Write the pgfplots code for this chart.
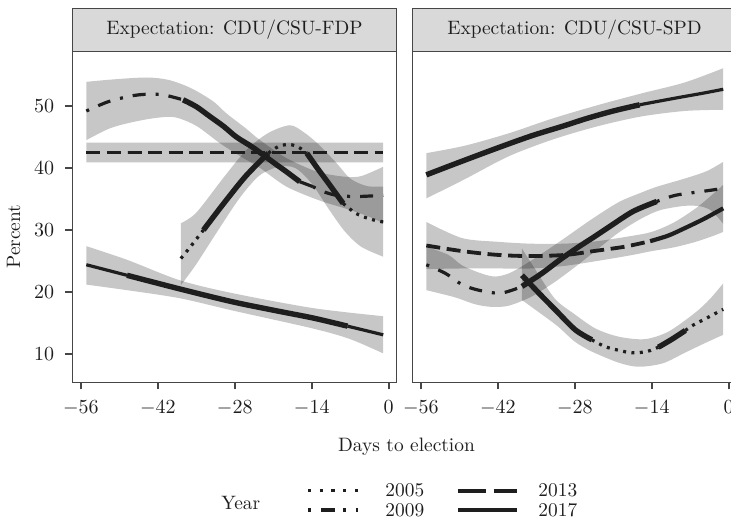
\documentclass[border=0pt]{standalone}
\usepackage{pgfplots}
\pgfplotsset{compat=1.18}
\usepgfplotslibrary{fillbetween}

\definecolor{ink}{RGB}{30,30,30}
\definecolor{frame}{RGB}{70,70,70}
\definecolor{stripbg}{RGB}{217,217,217}

\pgfplotsset{
  panel/.style={
    scale only axis, width=162.2pt, height=165.3pt,
    xmin=-57.55, xmax=1.45, ymin=5.44, ymax=58.76,
    xtick={-56,-42,-28,-14,0},
    tick align=outside, major tick length=3.5pt,
    xtick pos=bottom, ytick pos=left,
    tick style={line width=0.9pt, color=frame},
    axis line style={line width=0.6pt, draw=frame},
    tick label style={font=\fontsize{9.7}{11.6}\selectfont, text=ink},
    xticklabel style={yshift=-2pt},
    yticklabel style={xshift=-2pt},
  },
  band/.style={draw=none, smooth},
  shade/.style={fill=black, fill opacity=0.22, draw=none},
  thin/.style={ink, line width=1.6pt, smooth, line cap=butt},
  thick/.style={ink, line width=2.7pt, smooth, line cap=butt},
  dashd/.style={ink, line width=1.9pt, smooth, line cap=butt, dash pattern=on 7pt off 3.3pt},
  dotd/.style={ink, line width=1.6pt, smooth, line cap=butt, dash pattern=on 1.5pt off 2.7pt},
  dotdash/.style={ink, line width=1.6pt, smooth, line cap=butt, dash pattern=on 1.5pt off 5pt on 6.5pt off 5pt},
}

\begin{document}
\begin{tikzpicture}[font=\fontsize{9.7}{11.6}\selectfont]

% ---- left panel: CDU/CSU-FDP
\begin{axis}[panel, at={(36.15pt,-191.15pt)}, anchor=south west, ytick={10,20,30,40,50}]
  % bands
  \addplot[band, name path=a13u] coordinates {(-55,44.1) (-1,44.1)};
  \addplot[band, name path=a13l] coordinates {(-55,40.9) (-1,40.9)};
  \addplot[shade] fill between[of=a13u and a13l];
  \addplot[band, name path=a09u] coordinates {(-55,53.9) (-50,54.3) (-44,54.6) (-40,54.2) (-36,52.9) (-32,50.8) (-29.5,48.8) (-26,46.4) (-23.4,44.5) (-18.6,41.6) (-13,39.4) (-8,38.6) (-5,38.7) (-1,40.2)};
  \addplot[band, name path=a09l] coordinates {(-55,44.5) (-51,46.3) (-47.6,47.2) (-43,48.0) (-39,48.2) (-35,46.8) (-30.7,44.0) (-27,41.9) (-23.4,40.0) (-18.6,37.0) (-12.7,34.8) (-8,33.5) (-4,32.3) (-1,31.1)};
  \addplot[shade] fill between[of=a09u and a09l];
  \addplot[band, name path=a05u] coordinates {(-37.8,31.1) (-35,32.8) (-30,38.5) (-26,42.8) (-22,45.6) (-18,46.9) (-15.5,45.8) (-13,44.0) (-9.5,40.8) (-7,38.3) (-4,37.1) (-1,37.0)};
  \addplot[band, name path=a05l] coordinates {(-37.8,21.1) (-35,24.5) (-31,30.0) (-27,35.3) (-23.5,38.8) (-20,40.2) (-17,40.0) (-14,37.5) (-11,33.5) (-8,29.8) (-5,27.3) (-1,25.7)};
  \addplot[shade] fill between[of=a05u and a05l];
  \addplot[band, name path=a17u] coordinates {(-55,27.4) (-47.6,25.2) (-38,21.9) (-28.3,19.8) (-13.7,17.4) (-1,16.1)};
  \addplot[band, name path=a17l] coordinates {(-55,21.2) (-47.6,20.3) (-38,19.0) (-28.3,17.0) (-13.7,14.1) (-7,12.4) (-1,10.1)};
  \addplot[shade] fill between[of=a17u and a17l];
  % 2013
  \addplot[dashd] coordinates {(-55,42.5) (-1,42.5)};
  % 2009
  \addplot[dotdash] coordinates {(-55,49.2) (-51,50.7) (-47,51.6) (-44,51.9) (-41,51.8) (-37.4,51.0)};
  \addplot[thick] coordinates {(-37.4,51.0) (-35,49.9) (-32.5,48.3) (-30,46.7) (-27.7,45.0) (-25,43.5) (-22.8,42.1) (-20.5,40.6) (-18.6,39.4) (-16.2,37.8)};
  \addplot[thin] coordinates {(-16.2,37.8) (-15,37.4) (-13.8,37.0)};
  \addplot[dotdash] coordinates {(-13.8,37.0) (-11.9,36.2) (-9.5,35.6) (-6,35.4) (-1,35.6)};
  % 2005
  \addplot[dotd] coordinates {(-37.8,25.4) (-35.8,27.6) (-33.7,30.0)};
  \addplot[thick] coordinates {(-33.7,30.0) (-30,34.3) (-26,38.7) (-21.9,42.4)};
  \addplot[dotd] coordinates {(-21.9,42.4) (-20,43.5) (-18,43.8) (-16.3,43.3) (-14.9,42.4)};
  \addplot[thick] coordinates {(-14.9,42.4) (-13,40.0) (-11,37.6) (-8.3,34.3)};
  \addplot[dotd] coordinates {(-8.3,34.3) (-6,32.7) (-3.5,31.8) (-1,31.3)};
  % 2017
  \addplot[thin] coordinates {(-55,24.4) (-47.6,22.7)};
  \addplot[thick] coordinates {(-47.6,22.7) (-38,20.5) (-28.3,18.4) (-20,16.9) (-13.7,15.8) (-7.5,14.5)};
  \addplot[thin] coordinates {(-7.5,14.5) (-1,13.1)};
\end{axis}

% ---- right panel: CDU/CSU-SPD
\begin{axis}[panel, at={(206.15pt,-191.15pt)}, anchor=south west, ytick=\empty]
  \addplot[band, name path=b17u] coordinates {(-55,42.4) (-48,43.6) (-40,45.6) (-32,48.0) (-24,50.1) (-16,52.0) (-8,53.8) (-1,56.1)};
  \addplot[band, name path=b17l] coordinates {(-55,35.1) (-48,38.2) (-40,41.9) (-32,44.6) (-24,46.7) (-16,48.3) (-8,49.2) (-1,49.4)};
  \addplot[shade] fill between[of=b17u and b17l];
  \addplot[band, name path=b13u] coordinates {(-55,31.3) (-48.5,28.7) (-42,28.1) (-36,27.8) (-30,27.8) (-24,28.2) (-18,29.0) (-14,29.7) (-10,31.2) (-6,33.5) (-3,35.7) (-1,37.3)};
  \addplot[band, name path=b13l] coordinates {(-55,23.7) (-48.5,23.8) (-42,23.8) (-36,23.8) (-30,24.2) (-24,25.0) (-18,25.9) (-14,26.6) (-10,27.2) (-6,28.1) (-3,29.0) (-1,29.7)};
  \addplot[shade] fill between[of=b13u and b13l];
  \addplot[band, name path=b09u] coordinates {(-55,27.3) (-51,26.0) (-48.5,24.3) (-45,23.0) (-42.4,22.5) (-39.5,23.2) (-35,25.6) (-30,28.6) (-25,31.7) (-20,34.5) (-16,36.0) (-13,37.0) (-8,38.3) (-4,39.5) (-1,41.0)};
  \addplot[band, name path=b09l] coordinates {(-55,20.3) (-50,19.2) (-46,18.0) (-43,17.6) (-40,17.8) (-36,19.2) (-32,21.4) (-28,24.0) (-24,26.8) (-20,29.6) (-16,31.8) (-12.5,33.2) (-8,33.9) (-5,33.8) (-3,33.0) (-1,31.0)};
  \addplot[shade] fill between[of=b09u and b09l];
  \addplot[band, name path=b05u] coordinates {(-37.6,27.0) (-35,23.4) (-31.6,18.9) (-28,16.4) (-24.2,14.1) (-20,12.8) (-15.3,12.4) (-11,13.6) (-6.2,16.6) (-3.5,18.8) (-1,21.4)};
  \addplot[band, name path=b05l] coordinates {(-37.6,18.7) (-34,16.4) (-31,14.4) (-28,12.0) (-24.9,10.4) (-20,8.6) (-16.4,7.95) (-12,8.5) (-8,10.2) (-4,11.9) (-1,13.1)};
  \addplot[shade] fill between[of=b05u and b05l];
  % 2017
  \addplot[thick] coordinates {(-55,38.9) (-50,40.6) (-44.6,42.4) (-40,43.9) (-35.5,45.3) (-30,46.8) (-25.8,48.0) (-21,49.2) (-16.2,50.2)};
  \addplot[thin] coordinates {(-16.2,50.2) (-12,50.9) (-8.3,51.5) (-4.5,52.1) (-1,52.7)};
  % 2013
  \addplot[dashd] coordinates {(-55,27.5) (-48.5,26.6) (-42.2,26.0) (-36,25.8) (-29.5,26.0) (-24.6,26.6) (-19,27.3) (-14.3,28.2)};
  \addplot[thin, line width=2.1pt] coordinates {(-14.3,28.2) (-11,29.1) (-8,30.3) (-4.5,31.8) (-1,33.5)};
  % 2009
  \addplot[dotdash] coordinates {(-55,24.4) (-51.5,23.0) (-48.5,21.2) (-45.5,20.3) (-41.8,19.8) (-39.4,20.3) (-37.6,20.9)};
  \addplot[thick] coordinates {(-37.6,20.9) (-34,23.0) (-30.7,25.2) (-27.1,27.4) (-24.3,29.0) (-21.6,30.6) (-17.4,33.0) (-13.1,34.6)};
  \addplot[dotdash] coordinates {(-13.1,34.6) (-9.7,35.6) (-5,36.2) (-1,36.7)};
  % 2005
  \addplot[thick] coordinates {(-37.6,22.7) (-34.5,19.8) (-31.5,17.1) (-27.9,13.9) (-24.9,12.3)};
  \addplot[dotd] coordinates {(-24.9,12.3) (-22.5,11.2) (-20,10.6) (-17.6,10.2) (-14.9,10.4) (-12.8,11.1)};
  \addplot[thick] coordinates {(-12.8,11.1) (-10.3,12.4) (-7.9,13.8)};
  \addplot[dotd] coordinates {(-7.9,13.8) (-6.4,14.7) (-4,15.8) (-1.9,16.8) (-1,17.2)};
\end{axis}

% strips
\draw[fill=stripbg, draw=frame, line width=0.6pt] (36.15pt,-4.15pt) rectangle (198.35pt,-25.85pt);
\draw[fill=stripbg, draw=frame, line width=0.6pt] (206.15pt,-4.15pt) rectangle (368.35pt,-25.85pt);
\node[text=ink] at (117.25pt,-15pt) {Expectation: CDU/CSU-FDP};
\node[text=ink] at (287.25pt,-15pt) {Expectation: CDU/CSU-SPD};

% axis titles
\node[rotate=90, text=ink] at (6.75pt,-118.3pt) {Percent};
\node[text=ink] at (203.25pt,-223.5pt) {Days to election};

% legend
\node[text=ink] at (120.4pt,-251.7pt) {Year};
\draw[ink, line width=1.65pt, dash pattern=on 1.65pt off 4.2pt] (154pt,-245.3pt) -- (179pt,-245.3pt);
\draw[ink, line width=1.65pt, dash pattern=on 1.65pt off 5pt on 7pt off 3.8pt] (154pt,-255pt) -- (179pt,-255pt);
\draw[ink, line width=2pt, dash pattern=on 14pt off 4pt] (229pt,-245.3pt) -- (258.4pt,-245.3pt);
\draw[ink, line width=2pt] (229pt,-255pt) -- (258.4pt,-255pt);
\node[anchor=west, inner sep=0pt, text=ink] at (192.5pt,-245.3pt) {2005};
\node[anchor=west, inner sep=0pt, text=ink] at (192.5pt,-255pt) {2009};
\node[anchor=west, inner sep=0pt, text=ink] at (269pt,-245.3pt) {2013};
\node[anchor=west, inner sep=0pt, text=ink] at (269pt,-255pt) {2017};

\pgfresetboundingbox
\path[use as bounding box] (0,0) rectangle (365.5pt,-260pt);
\end{tikzpicture}
\end{document}
